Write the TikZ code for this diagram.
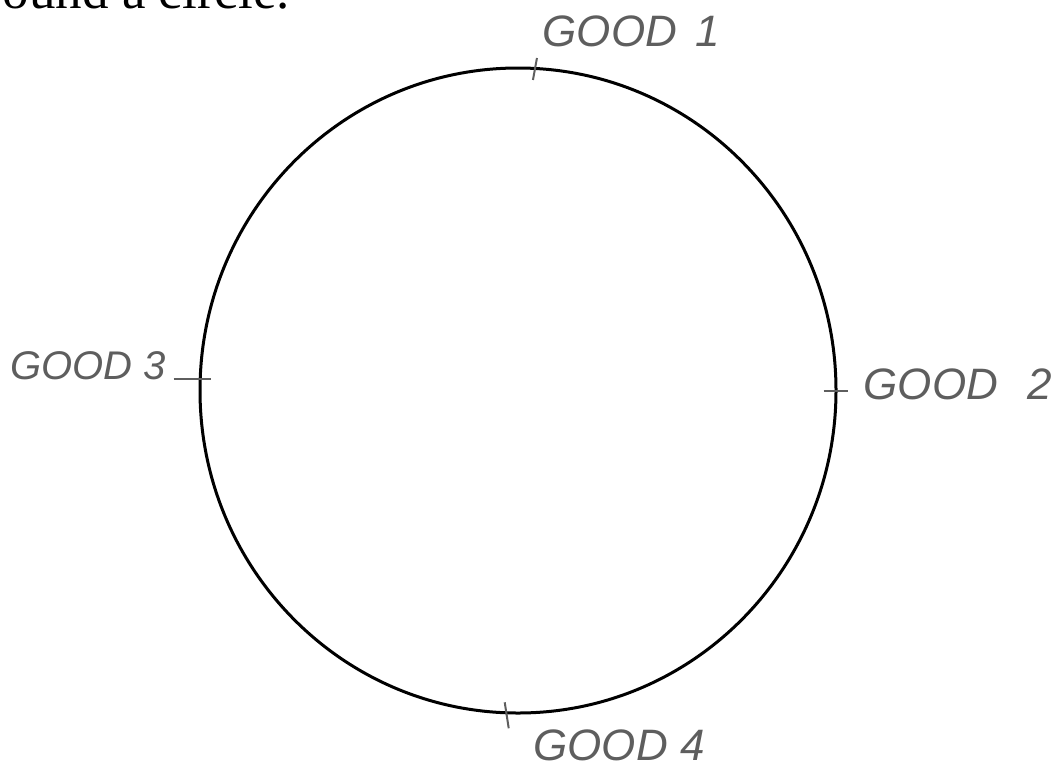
\documentclass[tikz,border=0pt]{standalone}
\usepackage{fontspec}
\setmainfont{Liberation Serif}
\newfontfamily\handfont{Liberation Sans}
\usetikzlibrary{shapes.geometric}
\definecolor{pencil}{HTML}{5E5E5E}

\begin{document}
\begin{tikzpicture}[x=1pt,y=-1pt,ring/.style={draw=black,ellipse,line width=3pt,inner sep=0pt,minimum width=636pt,minimum height=645pt},tick/.style={draw=pencil,line width=2pt},lbl/.style={text=pencil,font=\handfont\itshape\fontsize{44}{44}\selectfont,inner sep=0pt}]
\useasboundingbox (0,0) rectangle (1064,769);
\clip (0,0) rectangle (1064,769);
\node[anchor=base east,font=\fontsize{53}{53}\selectfont,inner sep=0pt] (caption) at (290,8) {round a circle.};
\node[ring] (circ) at (518,390.5) {};
\draw[tick] ([shift={(-2,13)}]circ.87) -- ([shift={(2,-9)}]circ.87);
\draw[tick] ([xshift=-14]circ.0) -- ([xshift=10]circ.0);
\draw[tick] ([xshift=-25]circ.178.6) -- ([xshift=12]circ.178.6);
\draw[tick] ([shift={(2,14)}]circ.268.2) -- ([shift={(-2,-12)}]circ.268.2);
\node[lbl] (good1) at (631,31) {GOOD\hspace{18pt}1};
\node[lbl] (good2) at (958,384) {GOOD\hspace{30pt}2};
\node[lbl,font=\handfont\itshape\fontsize{40}{40}\selectfont] (good3) at (88,366) {GOOD 3};
\node[lbl] (good4) at (619,745) {GOOD 4};
\end{tikzpicture}
\end{document}
